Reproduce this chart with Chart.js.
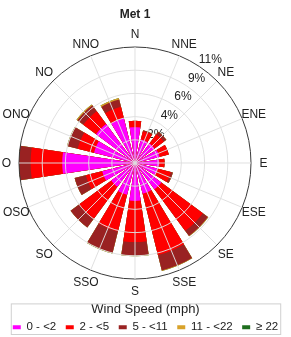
<!DOCTYPE html>
<html>
<head>
<meta charset="utf-8">
<script src="https://cdn.jsdelivr.net/npm/chart.js@4/dist/chart.umd.min.js"></script>
<style>
    html, body { margin: 0; padding: 0; background: #fff; }
    #wrap { width: 291px; height: 337px; }
</style>
</head>
<body>
<div id="wrap"><canvas id="rose"></canvas></div>
<script>
const directions = ["N", "NNE", "NE", "ENE", "E", "ESE", "SE", "SSE", "S", "SSO", "SO", "OSO", "O", "ONO", "NO", "NNO"];
const speedLabels = ["0 - <2", "2 - <5", "5 - <11", "11 - <22", "\u2265 22"];
const speedColors = ["#ff00ff", "#ff0000", "#992222", "#d8a22a", "#1e6e1e"];

// frequency (%) of each speed class, per direction
const speed0 = [3.4, 2.3, 2.3, 2.4, 2.3, 2.2, 3.1, 3.0, 3.6, 3.1, 2.8, 3.2, 6.9, 4.0, 4.6, 4.4];
const speed1 = [0.6, 0.8, 1.1, 0.9, 0.5, 1.3, 4.9, 6.0, 3.9, 3.6, 3.8, 1.6, 3.0, 1.6, 1.5, 1.1];
const speed2 = [0.0, 0.1, 0.3, 0.0, 0.0, 0.2, 0.6, 1.5, 1.3, 2.1, 1.0, 1.1, 1.1, 1.0, 0.7, 0.7];
const speed3 = [0.0, 0.0, 0.0, 0.0, 0.0, 0.0, 0.05, 0.05, 0.05, 0.05, 0.0, 0.0, 0.0, 0.05, 0.1, 0.15];
const speed4 = [0, 0, 0, 0, 0, 0, 0, 0, 0, 0, 0, 0, 0, 0, 0, 0];

const ringValues = [0, 2.2, 4.4, 6.6, 8.8, 11];
const ringLabels = ["", "2%", "4%", "6%", "9%", "11%"];

const barAngle = 17;
const gapAngle = 5.5;
// room kept free left and right of the rose inside the chart area
const plotInset = { left: 19, right: 40 };

Chart.defaults.font.family = "'Liberation Sans', Arial, sans-serif";
Chart.defaults.color = "#222";

// bars sit on the direction, with an empty slice between them;
// the N bar is split in two halves around the top
function spread(values) {
    const out = [values[0]];
    for (let i = 1; i < values.length; i++) out.push(0, values[i]);
    out.push(0, values[0]);
    return out;
}

const angles = [barAngle / 2];
for (let i = 1; i < directions.length; i++) angles.push(gapAngle, barAngle);
angles.push(gapAngle, barAngle / 2);

// stacked bands: each ring is drawn from the centre to the running total
const bands = [speed0, speed1, speed2, speed3, speed4];
const totals = bands.map((b, k) =>
    directions.map((d, i) => bands.slice(0, k + 1).reduce((s, arr) => s + arr[i], 0))
);

const roseLabelPlugin = {
    id: "roseLabels",
    afterLayout(chart) {
        // title is centred over the rose, not over the whole canvas
        const t = chart.titleBlock;
        t.right -= plotInset.right - plotInset.left;
        t.width = t.right - t.left;
    },
    beforeDatasetsDraw(chart) {
        // ring values along a line a bit east of north
        const scale = chart.scales.r;
        const ctx = chart.ctx;
        const a = 36 * Math.PI / 180;
        ctx.save();
        ctx.font = "12px 'Liberation Sans', Arial, sans-serif";
        ctx.fillStyle = "#222";
        ctx.textAlign = "center";
        ctx.textBaseline = "middle";
        ringValues.forEach((v, i) => {
            if (!ringLabels[i]) return;
            const r = scale.getDistanceFromCenterForValue(v) + 12;
            ctx.fillText(ringLabels[i], scale.xCenter + r * Math.sin(a), scale.yCenter - r * Math.cos(a));
        });
        ctx.restore();
    },
    afterDraw(chart) {
        // compass labels centred just outside the outer ring
        const scale = chart.scales.r;
        const ctx = chart.ctx;
        ctx.save();
        ctx.font = "12px 'Liberation Sans', Arial, sans-serif";
        ctx.fillStyle = "#222";
        ctx.textAlign = "center";
        ctx.textBaseline = "middle";
        directions.forEach((d, i) => {
            const p = scale.getPointPosition(i, scale.drawingArea + 12.5);
            ctx.fillText(d, p.x, p.y + 0.5);
        });

        // frame round the legend
        const lg = chart.legend;
        const boxes = lg.legendHitBoxes;
        if (boxes && boxes.length) {
            const minX = Math.min(...boxes.map(b => b.left));
            const maxX = Math.max(...boxes.map(b => b.left + b.width));
            const bottom = boxes[0].top + boxes[0].height + 1.5;
            ctx.strokeStyle = "#d0d0d0";
            ctx.lineWidth = 1;
            ctx.strokeRect(minX - 1.5, lg.top + 2.5, maxX - minX + 4, bottom - lg.top - 2.5);
        }
        ctx.restore();
    }
};

new Chart(document.getElementById("rose"), {
    type: "polarArea",
    data: {
        labels: spread(directions),
        datasets: totals.map((t, k) => ({
            label: speedLabels[k],
            data: spread(t),
            backgroundColor: speedColors[k],
            borderWidth: 0,
            angle: angles
        }))
    },
    options: {
        responsive: true,
        maintainAspectRatio: false,
        animation: false,
        layout: {
            padding: { top: 4, right: 0, bottom: -6, left: 0 }
        },
        plugins: {
            title: {
                display: true,
                text: "Met 1",
                font: { size: 12, weight: "bold" },
                padding: { top: 3, bottom: 3.6 }
            },
            legend: {
                position: "bottom",
                title: {
                    display: true,
                    text: "Wind Speed (mph)",
                    font: { size: 13 },
                    padding: { top: 2, bottom: -7 }
                },
                labels: {
                    boxWidth: 8,
                    boxHeight: 4,
                    padding: 9.5,
                    font: { size: 11.5 },
                    generateLabels: chart => chart.data.datasets.map((ds, i) => ({
                        text: ds.label,
                        fillStyle: ds.backgroundColor,
                        strokeStyle: ds.backgroundColor,
                        lineWidth: 0,
                        hidden: false,
                        datasetIndex: i
                    }))
                }
            },
            tooltip: { enabled: false }
        },
        scales: {
            r: {
                min: 0,
                max: 11,
                startAngle: 0,
                labels: directions,
                afterBuildTicks: scale => {
                    scale.ticks = ringValues.map(v => ({ value: v }));
                },
                afterFit: scale => {
                    const w = scale.width - plotInset.left - plotInset.right;
                    scale.drawingArea = Math.floor(Math.min(w, scale.height) / 2);
                    scale.xCenter = Math.floor(scale.left + plotInset.left + w / 2);
                },
                ticks: { display: false },
                grid: {
                    z: 1,
                    circular: true,
                    color: c => c.index === ringValues.length - 1 ? "#3a3a3a" : "rgba(222,222,222,0.95)",
                    lineWidth: 1
                },
                angleLines: {
                    display: true,
                    color: "rgba(222,222,222,0.95)",
                    lineWidth: 1
                },
                pointLabels: { display: false }
            }
        }
    },
    plugins: [roseLabelPlugin]
});
</script>
</body>
</html>
